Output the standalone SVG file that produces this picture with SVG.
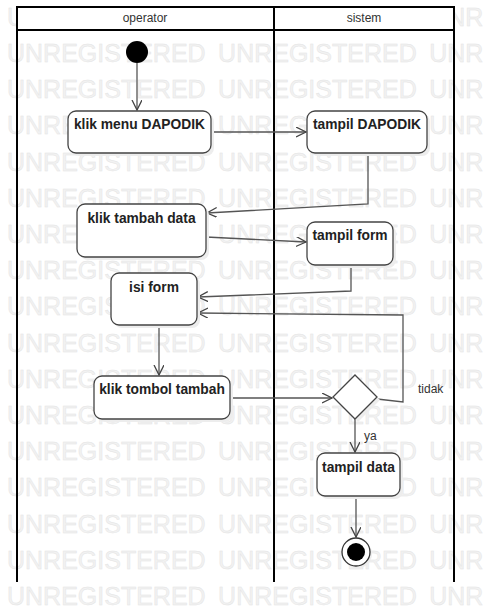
<svg xmlns="http://www.w3.org/2000/svg" width="491" height="611" viewBox="0 0 491 611">
<style>
.wm{font-family:"Liberation Sans",Arial,sans-serif;font-size:25px;word-spacing:5.5px;fill:#f2f2f2;stroke:#e4e4e4;stroke-width:0.45}
.lane{stroke:#000;stroke-width:2;fill:none}
.hdr{font-family:"Liberation Sans",Arial,sans-serif;font-size:12px;fill:#333;text-anchor:middle}
.node rect{fill:#fff;stroke:#444;stroke-width:1.3}
.node rect.shadow{fill:#ededed;stroke:none}
.lbl{font-family:"Liberation Sans",Arial,sans-serif;font-size:13.8px;font-weight:bold;fill:#222;text-anchor:middle}
.guard{font-family:"Liberation Sans",Arial,sans-serif;font-size:12px;fill:#333}
.conn{fill:none;stroke:#555;stroke-width:1.3;marker-end:url(#arr)}
</style>
<defs>
<marker id="arr" markerUnits="userSpaceOnUse" markerWidth="12" markerHeight="12" refX="10" refY="5" orient="auto">
<path d="M0,0 L10,5 L0,10" fill="none" stroke="#444" stroke-width="1.3"/>
</marker>
</defs>
<rect width="491" height="611" fill="#fff"/>
<g id="watermark">
<text class="wm" x="7" y="25.8">UNREGISTERED UNREGISTERED UNR</text>
<text class="wm" x="7" y="62">UNREGISTERED UNREGISTERED UNR</text>
<text class="wm" x="7" y="98.2">UNREGISTERED UNREGISTERED UNR</text>
<text class="wm" x="7" y="134.4">UNREGISTERED UNREGISTERED UNR</text>
<text class="wm" x="7" y="170.6">UNREGISTERED UNREGISTERED UNR</text>
<text class="wm" x="7" y="206.8">UNREGISTERED UNREGISTERED UNR</text>
<text class="wm" x="7" y="243">UNREGISTERED UNREGISTERED UNR</text>
<text class="wm" x="7" y="279.2">UNREGISTERED UNREGISTERED UNR</text>
<text class="wm" x="7" y="315.4">UNREGISTERED UNREGISTERED UNR</text>
<text class="wm" x="7" y="351.6">UNREGISTERED UNREGISTERED UNR</text>
<text class="wm" x="7" y="387.8">UNREGISTERED UNREGISTERED UNR</text>
<text class="wm" x="7" y="424">UNREGISTERED UNREGISTERED UNR</text>
<text class="wm" x="7" y="460.2">UNREGISTERED UNREGISTERED UNR</text>
<text class="wm" x="7" y="496.4">UNREGISTERED UNREGISTERED UNR</text>
<text class="wm" x="7" y="532.6">UNREGISTERED UNREGISTERED UNR</text>
<text class="wm" x="7" y="568.8">UNREGISTERED UNREGISTERED UNR</text>
<text class="wm" x="7" y="605">UNREGISTERED UNREGISTERED UNR</text>
</g>
<g id="lanes">
<rect x="17" y="7" width="437" height="23" fill="#fff" stroke="#000" stroke-width="2"/>
<path class="lane" d="M17,30 V582 M274,7 V582 M454,30 V582"/>
<text class="hdr" x="145" y="22">operator</text>
<text class="hdr" x="364" y="22">sistem</text>
</g>
<g id="connectors">
<path class="conn" d="M137,63 V110"/>
<path class="conn" d="M211,132 H306"/>
<path class="conn" d="M368,153 V204 L207,213"/>
<path class="conn" d="M206,237 L306,242"/>
<path class="conn" d="M351,265 V291 L198,297"/>
<path class="conn" d="M377,399 L403,402 V315 L198,313"/>
<path class="conn" d="M159,325 V375"/>
<path class="conn" d="M230,398 H332"/>
<path class="conn" d="M355,419 V452"/>
<path class="conn" d="M356,496 V537"/>
</g>
<g id="start"><circle cx="137" cy="52" r="11" fill="#000"/></g>
<g id="n1" class="node"><rect class="shadow" x="71" y="114" width="143" height="42" rx="8"/><rect x="68" y="111" width="143" height="42" rx="8"/><text class="lbl" x="139.5" y="129">klik menu DAPODIK</text></g>
<g id="n2" class="node"><rect class="shadow" x="310" y="114" width="120" height="42" rx="8"/><rect x="307" y="111" width="120" height="42" rx="8"/><text class="lbl" x="367" y="129">tampil DAPODIK</text></g>
<g id="n3" class="node"><rect class="shadow" x="80" y="207" width="129" height="53" rx="8"/><rect x="77" y="204" width="129" height="53" rx="8"/><text class="lbl" x="141.5" y="223">klik tambah data</text></g>
<g id="n4" class="node"><rect class="shadow" x="310" y="225" width="86" height="43" rx="8"/><rect x="307" y="222" width="86" height="43" rx="8"/><text class="lbl" x="350" y="240">tampil form</text></g>
<g id="n5" class="node"><rect class="shadow" x="114" y="276" width="86" height="52" rx="8"/><rect x="111" y="273" width="86" height="52" rx="8"/><text class="lbl" x="154" y="292">isi form</text></g>
<g id="n6" class="node"><rect class="shadow" x="97" y="379" width="136" height="43" rx="8"/><rect x="94" y="376" width="136" height="43" rx="8"/><text class="lbl" x="162" y="394">klik tombol tambah</text></g>
<g id="decision"><path d="M358,378 L380,400 L358,422 L336,400 Z" fill="#ededed"/><path d="M355,375 L377,397 L355,419 L333,397 Z" fill="#fff" stroke="#444" stroke-width="1.3"/></g>
<g id="n7" class="node"><rect class="shadow" x="320" y="456" width="83" height="43" rx="8"/><rect x="317" y="453" width="83" height="43" rx="8"/><text class="lbl" x="358.5" y="472">tampil data</text></g>
<g id="end"><circle cx="358" cy="554" r="14" fill="#ededed"/><circle cx="356" cy="552" r="14" fill="#fff" stroke="#333" stroke-width="1.3"/><circle cx="356" cy="552" r="9" fill="#000"/></g>
<g id="guards">
<text class="guard" x="418" y="393">tidak</text>
<text class="guard" x="364" y="440">ya</text>
</g>
</svg>
